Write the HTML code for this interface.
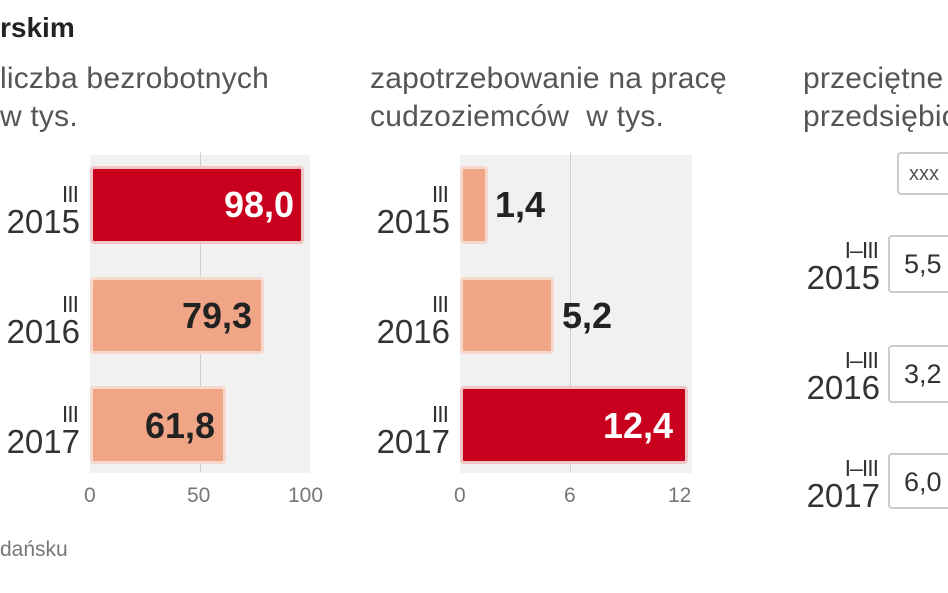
<!DOCTYPE html>
<html><head><meta charset="utf-8"><style>
body{margin:0;width:948px;height:593px;background:#fff;position:relative;overflow:hidden;font-family:"Liberation Sans",sans-serif;color:#333}
.a{position:absolute}
.sub{font-size:30px;color:#555;line-height:38px;white-space:nowrap;letter-spacing:0.2px}
.yl{text-align:right;color:#333;line-height:28px}
.yl .q{font-size:23px;letter-spacing:-1px;padding-right:2px}
.yl .y{font-size:33px}
.panel{background:#f1f1f1}
.bar{border:3px solid #f7d8cc;border-radius:4px;box-sizing:border-box}
.red{background:#c8001e;border-color:#f2c6c6}
.sal{background:#f0a586}
.v{font-weight:bold;font-size:36px}
.tick{font-size:21px;color:#777}
.box{background:#fff;border:2px solid #ccc;border-radius:4px;box-sizing:border-box;font-size:27px;padding-left:14px;line-height:54px}
</style></head><body>
<div class="a" style="left:0;top:12px;font-size:28px;font-weight:bold;color:#222">rskim</div>
<div class="a sub" style="left:0;top:60px">liczba bezrobotnych<br>w tys.</div>
<div class="a sub" style="left:370px;top:60px">zapotrzebowanie na pracę<br>cudzoziemców&nbsp; w tys.</div>
<div class="a sub" style="left:803px;top:60px">przeciętne<br>przedsiębio</div>

<div class="a panel" style="left:90px;top:155px;width:220px;height:318px"></div>
<div class="a" style="left:200px;top:152px;width:1px;height:320px;background:#d0d0d0"></div>
<div class="a bar red" style="left:90px;top:166px;width:214px;height:78px"></div>
<div class="a bar sal" style="left:90px;top:277px;width:174px;height:77px"></div>
<div class="a bar sal" style="left:90px;top:386px;width:136px;height:78px"></div>
<div class="a v" style="left:224px;top:184px;color:#fff">98,0</div>
<div class="a v" style="left:182px;top:295px;color:#222">79,3</div>
<div class="a v" style="left:145px;top:405px;color:#222">61,8</div>
<div class="a yl" style="left:0;top:180px;width:80px"><div class="q">III</div><div class="y">2015</div></div>
<div class="a yl" style="left:0;top:290px;width:80px"><div class="q">III</div><div class="y">2016</div></div>
<div class="a yl" style="left:0;top:400px;width:80px"><div class="q">III</div><div class="y">2017</div></div>
<div class="a tick" style="left:84px;top:484px">0</div>
<div class="a tick" style="left:187px;top:484px">50</div>
<div class="a tick" style="left:288px;top:484px">100</div>

<div class="a panel" style="left:460px;top:155px;width:232px;height:318px"></div>
<div class="a" style="left:570px;top:152px;width:1px;height:320px;background:#d0d0d0"></div>
<div class="a bar sal" style="left:460px;top:166px;width:28px;height:78px"></div>
<div class="a bar sal" style="left:460px;top:277px;width:94px;height:77px"></div>
<div class="a bar red" style="left:460px;top:386px;width:228px;height:78px"></div>
<div class="a v" style="left:495px;top:184px;color:#222">1,4</div>
<div class="a v" style="left:562px;top:295px;color:#222">5,2</div>
<div class="a v" style="left:603px;top:405px;color:#fff">12,4</div>
<div class="a yl" style="left:360px;top:180px;width:90px"><div class="q">III</div><div class="y">2015</div></div>
<div class="a yl" style="left:360px;top:290px;width:90px"><div class="q">III</div><div class="y">2016</div></div>
<div class="a yl" style="left:360px;top:400px;width:90px"><div class="q">III</div><div class="y">2017</div></div>
<div class="a tick" style="left:454px;top:484px">0</div>
<div class="a tick" style="left:564px;top:484px">6</div>
<div class="a tick" style="left:668px;top:484px">12</div>

<div class="a box" style="left:897px;top:152px;width:80px;height:43px;line-height:40px;font-size:20px;padding-left:10px;color:#555">xxx</div>
<div class="a yl" style="left:790px;top:236px;width:90px"><div class="q">I–III</div><div class="y">2015</div></div>
<div class="a yl" style="left:790px;top:346px;width:90px"><div class="q">I–III</div><div class="y">2016</div></div>
<div class="a yl" style="left:790px;top:454px;width:90px"><div class="q">I–III</div><div class="y">2017</div></div>
<div class="a box" style="left:888px;top:235px;width:80px;height:58px">5,5</div>
<div class="a box" style="left:888px;top:345px;width:80px;height:58px">3,2</div>
<div class="a box" style="left:888px;top:453px;width:80px;height:56px">6,0</div>

<div class="a" style="left:0;top:538px;font-size:21px;color:#777">dańsku</div>
</body></html>
